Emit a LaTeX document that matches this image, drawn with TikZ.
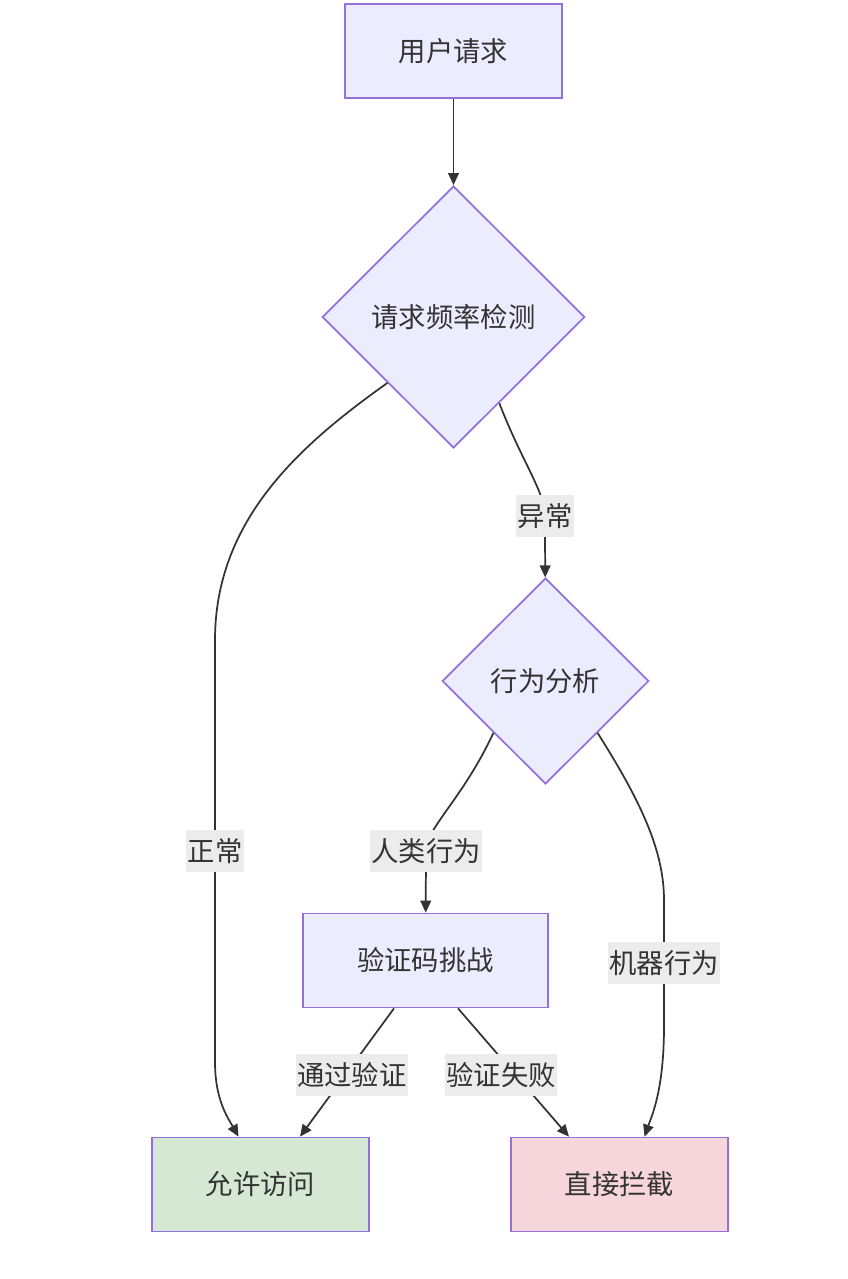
\documentclass[tikz,border=0pt]{standalone}
\usepackage{fontspec}
\newfontfamily\cjk{Noto Sans CJK SC}
\usetikzlibrary{shapes.geometric,arrows.meta,positioning,calc}
\definecolor{nodefill}{HTML}{ECECFF}
\definecolor{nodeline}{HTML}{9370DB}
\definecolor{okfill}{HTML}{D5E8D4}
\definecolor{blockfill}{HTML}{F6D6DA}
\definecolor{labelfill}{HTML}{ECECEC}
\definecolor{ink}{HTML}{333333}
\begin{document}
\begin{tikzpicture}[x=0.75pt,y=-0.75pt]
  \tikzstyle{box}=[shape=rectangle, draw=nodeline, fill=nodefill, line width=1.3pt, minimum width=163pt, minimum height=70.5pt, text=ink, font=\cjk\fontsize{20.5}{24}\selectfont]
  \tikzstyle{check}=[shape=diamond, draw=nodeline, fill=nodefill, line width=1.3pt, aspect=1, inner sep=0pt, text=ink, font=\cjk\fontsize{20.5}{24}\selectfont]
  \tikzstyle{lbl}=[fill=labelfill, inner xsep=1pt, inner ysep=0pt, minimum height=31.5pt, text=ink, font=\cjk\fontsize{20.5}{24}\selectfont]
  \tikzstyle{connection}=[color=ink, line width=1.3pt, >={Triangle[length=9pt,width=8pt]}]

  \useasboundingbox (0,0) rectangle (847,1279);

  \node [box] (A) at (453.5,51) {用户请求};
  \node [check,minimum width=197pt,minimum height=196.5pt] (B) at (453.5,317) {请求频率检测};
  \node [check,minimum width=155pt,minimum height=154.5pt] (C) at (545.5,681) {行为分析};
  \node [box,minimum width=184pt] (D) at (425.5,960.5) {验证码挑战};
  \node [box,fill=okfill] (E) at (260.5,1184.5) {允许访问};
  \node [box,fill=blockfill] (F) at (619.5,1184.5) {直接拦截};

  \draw[connection,->] (A) -- (B);
  \draw[connection,->] (B.south west) .. controls (300,445) and (215,520) .. (215,640)
    -- node[lbl] {正常} (215,1062) .. controls (215,1100) and (228,1118) .. ($(E.north)+(-22,0)$);
  \draw[connection,->] (B.-62) .. controls (522,462) and (545,492) .. (545,516) node[lbl] {异常} -- (C);
  \draw[connection,->] (C.south west) .. controls (462,800) and (426,828) .. (426,851) node[lbl] {人类行为} -- (D);
  \draw[connection,->] (C.south east) .. controls (640,800) and (664,850) .. (664,900)
    -- node[lbl] {机器行为} (664,1026) .. controls (664,1090) and (652,1115) .. ($(F.north)+(25,0)$);
  \draw[connection,->] ($(D.south)+(-31.5,0)$) -- node[lbl,pos=0.52,xshift=5pt] {通过验证} ($(E.north)+(39.5,0)$);
  \draw[connection,->] ($(D.south)+(32.5,0)$) -- node[lbl,pos=0.52,xshift=-11pt] {验证失败} ($(F.north)+(-50.5,0)$);
\end{tikzpicture}
\end{document}
